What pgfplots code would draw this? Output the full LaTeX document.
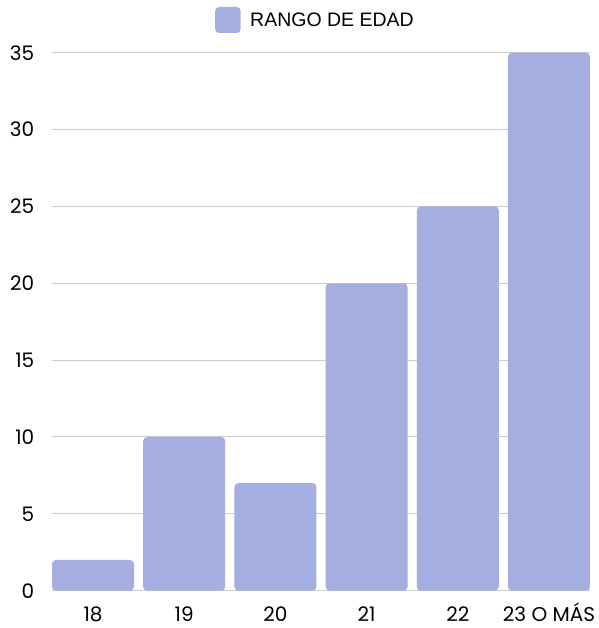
\documentclass[border=0pt]{standalone}
\usepackage{pgfplots}
\pgfplotsset{compat=1.18}
\usepackage{fontspec}
\setmainfont{Poppins}
\newfontfamily\legendfont{Liberation Sans}
\definecolor{barcol}{RGB}{164,174,224}
\definecolor{gridcol}{RGB}{204,204,204}
\begin{document}
\begin{tikzpicture}[x=1pt,y=1pt]
\path (0,0) rectangle (598,628);
\begin{axis}[
  at={(52pt,37.3pt)}, anchor=south west,
  scale only axis, width=538pt, height=538pt,
  xmin=-0.45, xmax=5.45, ymin=0, ymax=35,
  axis line style={draw=none},
  ybar, bar width=82pt,
  xtick={0,...,5}, xticklabels={18,19,20,21,22,23 O MÁS},
  ytick={0,5,...,35},
  ymajorgrids, major grid style={gridcol, line width=1pt},
  major tick length=0pt,
  tick label style={font=\fontsize{20}{24}\selectfont, inner sep=0pt},
  yticklabel style={xshift=-17.5pt},
  xticklabel style={anchor=base, yshift=-31pt},
  /pgf/number format/assume math mode=true,
  legend style={at={(0.303,1.0608)}, anchor=west, draw=none, fill=none,
    inner sep=0pt, nodes={inner sep=0pt},
    /tikz/every odd column/.append style={column sep=9.5pt},
    font=\legendfont\fontsize{19.5}{23}\selectfont},
  legend image code/.code={\fill[barcol] (0pt,-13pt) rectangle (25.5pt,13pt);},
]
\addplot[fill=barcol, draw=none, rounded corners=4pt]
  coordinates {(0,2) (1,10) (2,7) (3,20) (4,25) (5,35)};
\addlegendentry{RANGO DE EDAD}
\end{axis}
\end{tikzpicture}
\end{document}
